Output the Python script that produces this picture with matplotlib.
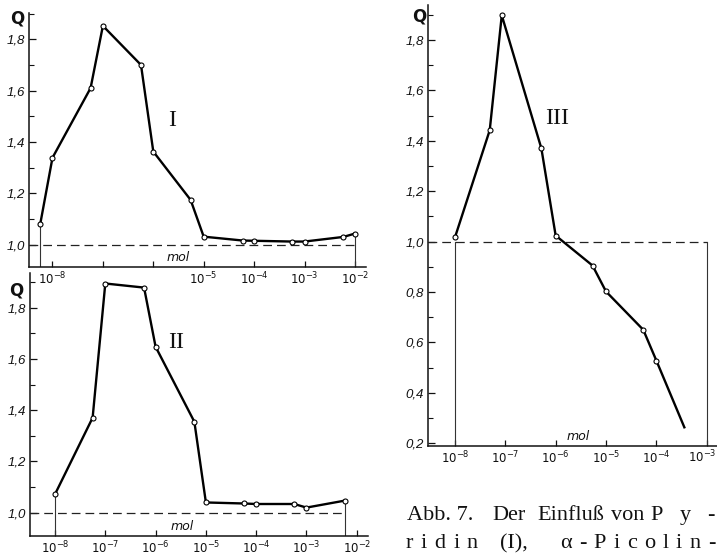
import numpy as np
import matplotlib
matplotlib.use("Agg")
import matplotlib.pyplot as plt
from matplotlib.ticker import FixedLocator, FixedFormatter, MultipleLocator
from matplotlib.font_manager import FontProperties
from matplotlib.transforms import blended_transform_factory, ScaledTranslation

plt.rcParams['mathtext.fontset'] = 'dejavusans'

# ---------------- data ----------------
decades = [1e-8, 1e-7, 1e-6, 1e-5, 1e-4, 1e-3, 1e-2]

conc_I = [5.7e-9, 1e-8, 5.7e-8, 1e-7, 5.7e-7, 1e-6, 5.5e-6, 1e-5, 5.9e-5, 1e-4, 5.7e-4, 1e-3, 5.9e-3, 1e-2]
q_I = [1.080, 1.339, 1.610, 1.852, 1.700, 1.363, 1.175, 1.032, 1.017, 1.016, 1.013, 1.013, 1.031, 1.044]

conc_II = [1e-8, 5.6e-8, 1e-7, 5.9e-7, 1e-6, 5.9e-6, 1e-5, 5.6e-5, 1e-4, 5.7e-4, 1e-3, 5.7e-3]
q_II = [1.072, 1.371, 1.895, 1.879, 1.648, 1.355, 1.040, 1.036, 1.034, 1.034, 1.020, 1.047]

conc_III = [1e-8, 4.9e-8, 8.5e-8, 5.2e-7, 1e-6, 5.4e-6, 1e-5, 5.5e-5, 1e-4, 3.6e-4]
q_III = [1.017, 1.442, 1.898, 1.370, 1.024, 0.905, 0.802, 0.650, 0.528, 0.263]

xlabels_I = ['-8', '', '', '-5', '-4', '-3', '-2']
xlabels_II = ['-8', '-7', '-6', '-5', '-4', '-3', '-2']
xlabels_III = ['-8', '-7', '-6', '-5', '-4', '-3']

ylabels_I = ['1,0', '1,2', '1,4', '1,6', '1,8']
yvals_I = [1.0, 1.2, 1.4, 1.6, 1.8]
ylabels_III = ['0,2', '0,4', '0,6', '0,8', '1,0', '1,2', '1,4', '1,6', '1,8']
yvals_III = [0.2, 0.4, 0.6, 0.8, 1.0, 1.2, 1.4, 1.6, 1.8]

panel_names = ['I', 'II', 'III']

# ---------------- figure ----------------
W, H = 717, 560
fig = plt.figure(figsize=(W / 100, H / 100), dpi=100)
fig.patch.set_facecolor('white')


def px_axes(l, r, t, b):
    ax = fig.add_axes([l / W, 1 - b / H, (r - l) / W, (b - t) / H])
    ax.set_facecolor('none')
    return ax


def fx(x):
    return x / W


def fy(y):
    return 1 - y / H


tickfont = FontProperties(family='Liberation Sans', style='italic', size=9.5)


def xlab(e):
    return r'$\mathit{10}^{\mathit{' + e + '}}$' if e else ''


def style(ax, xlim_log, ylim, xt, xl, yt, yl):
    ax.set_xscale('log')
    ax.set_xlim(10 ** xlim_log[0], 10 ** xlim_log[1])
    ax.set_ylim(*ylim)
    for s in ['top', 'right']:
        ax.spines[s].set_visible(False)
    for s in ['left', 'bottom']:
        ax.spines[s].set_linewidth(1.1)
        ax.spines[s].set_color('#111111')
    ax.xaxis.set_major_locator(FixedLocator(xt))
    ax.xaxis.set_major_formatter(FixedFormatter([xlab(e) for e in xl]))
    ax.xaxis.set_minor_locator(FixedLocator([]))
    ax.yaxis.set_major_locator(FixedLocator(yt))
    ax.yaxis.set_major_formatter(FixedFormatter(yl))
    ax.yaxis.set_minor_locator(MultipleLocator(0.1))
    ax.tick_params(axis='x', which='major', direction='in', length=4, width=0.9,
                   pad=3, labelsize=8.5, colors='#111111')
    ax.tick_params(axis='y', which='major', direction='in', length=5, width=0.9,
                   pad=3, colors='#111111')
    ax.tick_params(axis='y', which='minor', direction='in', length=3.5, width=0.8,
                   colors='#111111')
    for lab in ax.get_yticklabels():
        lab.set_fontproperties(tickfont)


line_kw = dict(color='black', lw=1.7, zorder=3)
mk_kw = dict(marker='o', ms=3.6, mfc='white', mec='black', mew=0.8)
dash_kw = dict(color='#222222', lw=0.9, dashes=(7, 4), zorder=2)
vline_kw = dict(color='#333333', lw=0.8, zorder=2)

# ---------- Panel I ----------
ax1 = px_axes(29, 366, 13, 267)
style(ax1, (-8.466, -1.78), (0.914, 1.902), decades, xlabels_I, yvals_I, ylabels_I)
ax1.plot([ax1.get_xlim()[0], conc_I[-1]], [1.0, 1.0], **dash_kw)
ax1.plot([conc_I[0], conc_I[0]], [ax1.get_ylim()[0], q_I[0]], **vline_kw)
ax1.plot([conc_I[-1], conc_I[-1]], [ax1.get_ylim()[0], q_I[-1]], **vline_kw)
ax1.plot(conc_I, q_I, **line_kw, **mk_kw)

# ---------- Panel II ----------
ax2 = px_axes(30, 368, 273, 535.5)
style(ax2, (-8.497, -1.777), (0.911, 1.936), decades, xlabels_II, yvals_I, ylabels_I)
ax2.plot([ax2.get_xlim()[0], conc_II[-1]], [1.0, 1.0], **dash_kw)
ax2.plot([conc_II[0], conc_II[0]], [ax2.get_ylim()[0], q_II[0]], **vline_kw)
ax2.plot([conc_II[-1], conc_II[-1]], [ax2.get_ylim()[0], q_II[-1]], **vline_kw)
ax2.plot(conc_II, q_II, **line_kw, **mk_kw)

# ---------- Panel III ----------
ax3 = px_axes(428, 717, 5, 445.7)
# last label (10^-3) drawn separately, nudged so it stays inside the picture
style(ax3, (-8.536, -2.795), (0.19, 1.939), decades[:6],
      xlabels_III[:-1] + [''], yvals_III, ylabels_III)
tr = blended_transform_factory(ax3.transData, ax3.transAxes) + \
    ScaledTranslation(-4 / 100, -3 / 100, fig.dpi_scale_trans)
ax3.text(decades[5], 0, xlab(xlabels_III[-1]), transform=tr, ha='center', va='top',
         fontsize=8.5, color='#111111')
ax3.plot([ax3.get_xlim()[0], decades[5]], [1.0, 1.0], **dash_kw)
ax3.plot([decades[0], decades[0]], [ax3.get_ylim()[0], 1.0], **vline_kw)
ax3.plot([decades[5], decades[5]], [ax3.get_ylim()[0], 1.0], **vline_kw)
ax3.plot(conc_III, q_III, **line_kw)
ax3.plot(conc_III[:-1], q_III[:-1], ls='none', zorder=4, **mk_kw)

# ---------- annotations ----------
qfont = dict(family='DejaVu Sans', fontsize=12, fontweight='bold', color='#111111',
             ha='center', va='center')
fig.text(fx(17), fy(19), 'Q', **qfont)
fig.text(fx(16), fy(291), 'Q', **qfont)
fig.text(fx(419), fy(16), 'Q', **qfont)

molfont = dict(family='DejaVu Sans', fontsize=9, style='italic', color='#111111',
               ha='center', va='center')
fig.text(fx(178), fy(258), 'mol', **molfont)
fig.text(fx(182), fy(527), 'mol', **molfont)
fig.text(fx(578), fy(436), 'mol', **molfont)

romfont = dict(family='Liberation Serif', fontsize=17, color='#111111',
               ha='center', va='center')
fig.text(fx(172), fy(121), panel_names[0], **romfont)
fig.text(fx(176), fy(342), panel_names[1], **romfont)
fig.text(fx(557), fy(118), panel_names[2], **romfont)

# ---------- caption ----------
capfp = FontProperties(family='Liberation Serif', size=16)
renderer = fig.canvas.get_renderer()


def twidth(s):
    t = fig.text(0, 0, s, fontproperties=capfp)
    w = t.get_window_extent(renderer).width
    t.remove()
    return w


def draw_word(word, left, right, baseline, spaced):
    if not spaced:
        fig.text(fx(left), fy(baseline), word, fontproperties=capfp,
                 ha='left', va='baseline', color='#111111')
        return
    widths = [twidth(c) for c in word]
    extra = (right - left - sum(widths)) / (len(word) - 1)
    x = left
    for c, w in zip(word, widths):
        fig.text(fx(x), fy(baseline), c, fontproperties=capfp,
                 ha='left', va='baseline', color='#111111')
        x += w + extra


caption = [
    (520, [('Abb. 7.', 407, 480, False), ('Der', 492, 528, False),
           ('Einfluß', 537, 603, False), ('von', 611, 640, False),
           ('Py-', 650, 715, True)]),
    (548, [('ridin', 406, 478, True), ('(I),', 500, 533, False),
           ('α-Picolin-', 560, 715, True)]),
]
for base, words in caption:
    for w, l, r, sp in words:
        draw_word(w, l, r, base, sp)

fig.savefig('out.png', dpi=100, facecolor='white')
